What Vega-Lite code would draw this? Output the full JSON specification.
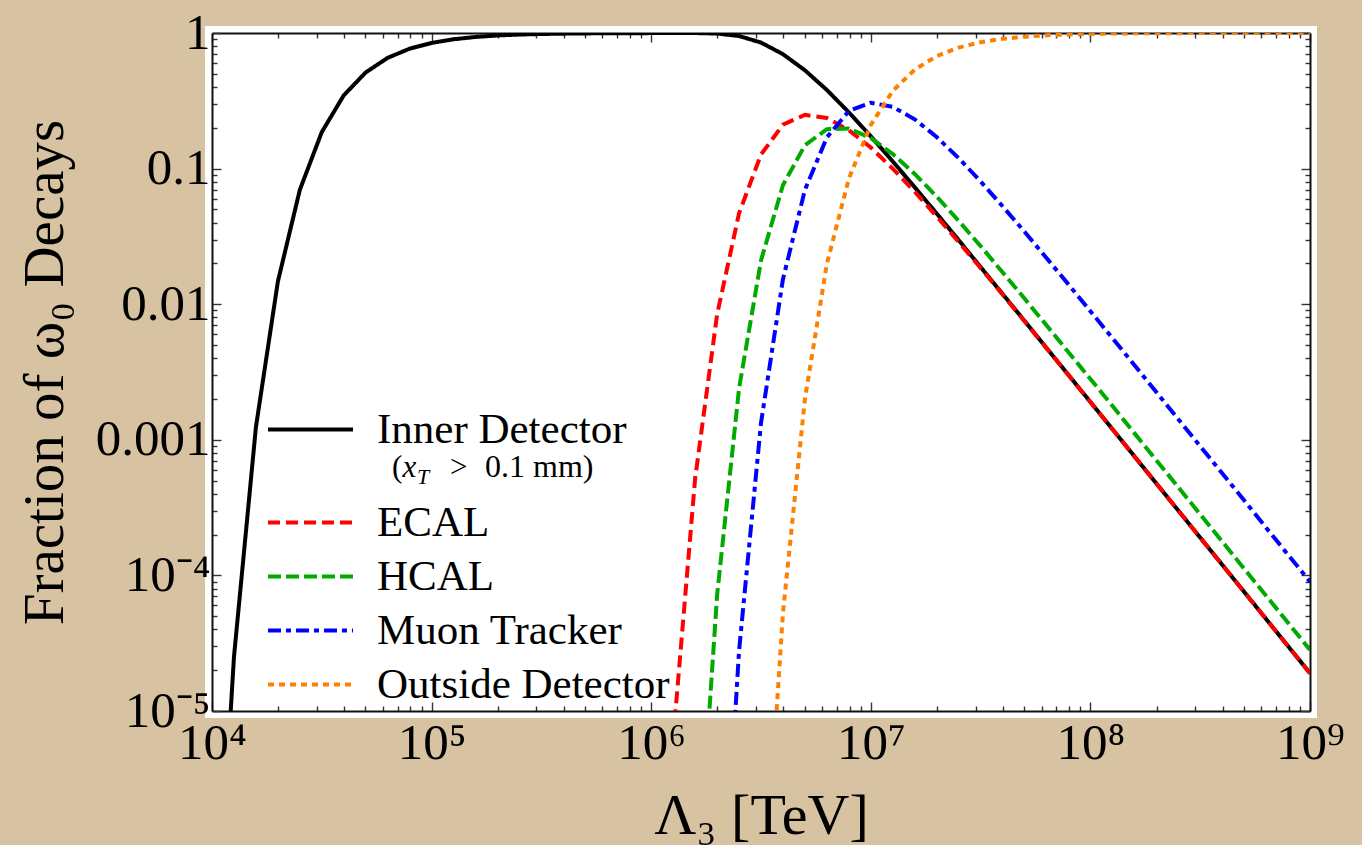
{
  "$schema": "https://vega.github.io/schema/vega-lite/v6.json",
  "width": 1098,
  "height": 678,
  "autosize": {"type": "none"},
  "padding": {"left": 212, "top": 33, "right": 52, "bottom": 134},
  "background": "#d7c3a2",
  "config": {
    "font": "Liberation Serif",
    "view": {"fill": "white", "stroke": "white", "strokeWidth": 14},
    "axis": {
      "grid": false,
      "domainColor": "#111111",
      "domainWidth": 2,
      "tickColor": "#333333",
      "tickWidth": 1.4,
      "labelFont": "Liberation Serif",
      "labelColor": "black",
      "titleFont": "Liberation Serif",
      "titleColor": "black",
      "titleFontWeight": "normal",
      "labelOverlap": false,
      "labelFlush": false,
      "labelBound": false
    },
    "legend": {
      "title": null,
      "orient": "none",
      "padding": 0,
      "symbolType": "M-4,0H4",
      "symbolSize": 452,
      "symbolStrokeWidth": 4,
      "labelFont": "Liberation Serif",
      "labelFontSize": 43,
      "labelColor": "black",
      "labelLimit": 500,
      "labelOffset": 45,
      "rowPadding": 10
    }
  },
  "datasets": {
    "curves": [
      {"s": "Inner Detector", "x": 1e4, "y": 5.1e-8},
      {"s": "Inner Detector", "x": 1.2589e4, "y": 2.5e-5},
      {"s": "Inner Detector", "x": 1.5849e4, "y": 1.24e-3},
      {"s": "Inner Detector", "x": 1.9953e4, "y": 0.0147},
      {"s": "Inner Detector", "x": 2.5119e4, "y": 0.0697},
      {"s": "Inner Detector", "x": 3.1623e4, "y": 0.186},
      {"s": "Inner Detector", "x": 3.9811e4, "y": 0.347},
      {"s": "Inner Detector", "x": 5.0119e4, "y": 0.512},
      {"s": "Inner Detector", "x": 6.3096e4, "y": 0.656},
      {"s": "Inner Detector", "x": 7.9433e4, "y": 0.766},
      {"s": "Inner Detector", "x": 1e5, "y": 0.845},
      {"s": "Inner Detector", "x": 1.2589e5, "y": 0.899},
      {"s": "Inner Detector", "x": 1.5849e5, "y": 0.935},
      {"s": "Inner Detector", "x": 1.9953e5, "y": 0.959},
      {"s": "Inner Detector", "x": 2.5119e5, "y": 0.974},
      {"s": "Inner Detector", "x": 3.1623e5, "y": 0.983},
      {"s": "Inner Detector", "x": 3.9811e5, "y": 0.989},
      {"s": "Inner Detector", "x": 5.0119e5, "y": 0.993},
      {"s": "Inner Detector", "x": 6.3096e5, "y": 0.996},
      {"s": "Inner Detector", "x": 7.9433e5, "y": 0.997},
      {"s": "Inner Detector", "x": 1e6, "y": 0.998},
      {"s": "Inner Detector", "x": 1.2589e6, "y": 0.999},
      {"s": "Inner Detector", "x": 1.5849e6, "y": 0.999},
      {"s": "Inner Detector", "x": 1.9953e6, "y": 0.991},
      {"s": "Inner Detector", "x": 2.5119e6, "y": 0.950},
      {"s": "Inner Detector", "x": 3.1623e6, "y": 0.850},
      {"s": "Inner Detector", "x": 3.9811e6, "y": 0.698},
      {"s": "Inner Detector", "x": 5.0119e6, "y": 0.531},
      {"s": "Inner Detector", "x": 6.3096e6, "y": 0.380},
      {"s": "Inner Detector", "x": 7.9433e6, "y": 0.260},
      {"s": "Inner Detector", "x": 1e7, "y": 0.173},
      {"s": "Inner Detector", "x": 1.2589e7, "y": 0.113},
      {"s": "Inner Detector", "x": 1.5849e7, "y": 0.0729},
      {"s": "Inner Detector", "x": 1.9953e7, "y": 0.0466},
      {"s": "Inner Detector", "x": 2.5119e7, "y": 0.0297},
      {"s": "Inner Detector", "x": 3.1623e7, "y": 0.0188},
      {"s": "Inner Detector", "x": 3.9811e7, "y": 0.0119},
      {"s": "Inner Detector", "x": 5.0119e7, "y": 0.00754},
      {"s": "Inner Detector", "x": 6.3096e7, "y": 0.00476},
      {"s": "Inner Detector", "x": 7.9433e7, "y": 0.00301},
      {"s": "Inner Detector", "x": 1e8, "y": 0.0019},
      {"s": "Inner Detector", "x": 1.2589e8, "y": 0.0012},
      {"s": "Inner Detector", "x": 1.5849e8, "y": 7.57e-4},
      {"s": "Inner Detector", "x": 1.9953e8, "y": 4.77e-4},
      {"s": "Inner Detector", "x": 2.5119e8, "y": 3.01e-4},
      {"s": "Inner Detector", "x": 3.1623e8, "y": 1.9e-4},
      {"s": "Inner Detector", "x": 3.9811e8, "y": 1.2e-4},
      {"s": "Inner Detector", "x": 5.0119e8, "y": 7.57e-5},
      {"s": "Inner Detector", "x": 6.3096e8, "y": 4.77e-5},
      {"s": "Inner Detector", "x": 7.9433e8, "y": 3.01e-5},
      {"s": "Inner Detector", "x": 1e9, "y": 1.9e-5},

      {"s": "ECAL", "x": 1.2589e6, "y": 6.2e-6},
      {"s": "ECAL", "x": 1.5849e6, "y": 5.17e-4},
      {"s": "ECAL", "x": 1.9953e6, "y": 0.00837},
      {"s": "ECAL", "x": 2.5119e6, "y": 0.0468},
      {"s": "ECAL", "x": 3.1623e6, "y": 0.127},
      {"s": "ECAL", "x": 3.9811e6, "y": 0.211},
      {"s": "ECAL", "x": 5.0119e6, "y": 0.249},
      {"s": "ECAL", "x": 6.3096e6, "y": 0.236},
      {"s": "ECAL", "x": 7.9433e6, "y": 0.192},
      {"s": "ECAL", "x": 1e7, "y": 0.143},
      {"s": "ECAL", "x": 1.2589e7, "y": 0.100},
      {"s": "ECAL", "x": 1.5849e7, "y": 0.0676},
      {"s": "ECAL", "x": 1.9953e7, "y": 0.0444},
      {"s": "ECAL", "x": 2.5119e7, "y": 0.0288},
      {"s": "ECAL", "x": 3.1623e7, "y": 0.0185},
      {"s": "ECAL", "x": 3.9811e7, "y": 0.0118},
      {"s": "ECAL", "x": 5.0119e7, "y": 0.00748},
      {"s": "ECAL", "x": 6.3096e7, "y": 0.00474},
      {"s": "ECAL", "x": 7.9433e7, "y": 0.0030},
      {"s": "ECAL", "x": 1e8, "y": 0.0019},
      {"s": "ECAL", "x": 1.2589e8, "y": 0.0012},
      {"s": "ECAL", "x": 1.5849e8, "y": 7.56e-4},
      {"s": "ECAL", "x": 1.9953e8, "y": 4.77e-4},
      {"s": "ECAL", "x": 2.5119e8, "y": 3.01e-4},
      {"s": "ECAL", "x": 3.1623e8, "y": 1.9e-4},
      {"s": "ECAL", "x": 3.9811e8, "y": 1.2e-4},
      {"s": "ECAL", "x": 5.0119e8, "y": 7.57e-5},
      {"s": "ECAL", "x": 6.3096e8, "y": 4.77e-5},
      {"s": "ECAL", "x": 7.9433e8, "y": 3.01e-5},
      {"s": "ECAL", "x": 1e9, "y": 1.9e-5},

      {"s": "HCAL", "x": 1.5849e6, "y": 2.68e-7},
      {"s": "HCAL", "x": 1.9953e6, "y": 7.12e-5},
      {"s": "HCAL", "x": 2.5119e6, "y": 2.39e-3},
      {"s": "HCAL", "x": 3.1623e6, "y": 0.0210},
      {"s": "HCAL", "x": 3.9811e6, "y": 0.0756},
      {"s": "HCAL", "x": 5.0119e6, "y": 0.1485},
      {"s": "HCAL", "x": 6.3096e6, "y": 0.1954},
      {"s": "HCAL", "x": 7.9433e6, "y": 0.1973},
      {"s": "HCAL", "x": 1e7, "y": 0.1681},
      {"s": "HCAL", "x": 1.2589e7, "y": 0.1282},
      {"s": "HCAL", "x": 1.5849e7, "y": 0.0913},
      {"s": "HCAL", "x": 1.9953e7, "y": 0.0622},
      {"s": "HCAL", "x": 2.5119e7, "y": 0.0412},
      {"s": "HCAL", "x": 3.1623e7, "y": 0.0268},
      {"s": "HCAL", "x": 3.9811e7, "y": 0.0172},
      {"s": "HCAL", "x": 5.0119e7, "y": 0.0110},
      {"s": "HCAL", "x": 6.3096e7, "y": 0.00699},
      {"s": "HCAL", "x": 7.9433e7, "y": 0.00443},
      {"s": "HCAL", "x": 1e8, "y": 0.00281},
      {"s": "HCAL", "x": 1.2589e8, "y": 0.00178},
      {"s": "HCAL", "x": 1.5849e8, "y": 0.00112},
      {"s": "HCAL", "x": 1.9953e8, "y": 7.08e-4},
      {"s": "HCAL", "x": 2.5119e8, "y": 4.47e-4},
      {"s": "HCAL", "x": 3.1623e8, "y": 2.82e-4},
      {"s": "HCAL", "x": 3.9811e8, "y": 1.78e-4},
      {"s": "HCAL", "x": 5.0119e8, "y": 1.12e-4},
      {"s": "HCAL", "x": 6.3096e8, "y": 7.08e-5},
      {"s": "HCAL", "x": 7.9433e8, "y": 4.47e-5},
      {"s": "HCAL", "x": 1e9, "y": 2.82e-5},

      {"s": "Muon Tracker", "x": 1.9953e6, "y": 6.0e-8},
      {"s": "Muon Tracker", "x": 2.5119e6, "y": 2.77e-5},
      {"s": "Muon Tracker", "x": 3.1623e6, "y": 1.33e-3},
      {"s": "Muon Tracker", "x": 3.9811e6, "y": 0.0153},
      {"s": "Muon Tracker", "x": 5.0119e6, "y": 0.0697},
      {"s": "Muon Tracker", "x": 6.3096e6, "y": 0.170},
      {"s": "Muon Tracker", "x": 7.9433e6, "y": 0.266},
      {"s": "Muon Tracker", "x": 1e7, "y": 0.306},
      {"s": "Muon Tracker", "x": 1.2589e7, "y": 0.285},
      {"s": "Muon Tracker", "x": 1.5849e7, "y": 0.231},
      {"s": "Muon Tracker", "x": 1.9953e7, "y": 0.171},
      {"s": "Muon Tracker", "x": 2.5119e7, "y": 0.1195},
      {"s": "Muon Tracker", "x": 3.1623e7, "y": 0.0804},
      {"s": "Muon Tracker", "x": 3.9811e7, "y": 0.0528},
      {"s": "Muon Tracker", "x": 5.0119e7, "y": 0.0342},
      {"s": "Muon Tracker", "x": 6.3096e7, "y": 0.0219},
      {"s": "Muon Tracker", "x": 7.9433e7, "y": 0.0140},
      {"s": "Muon Tracker", "x": 1e8, "y": 0.00888},
      {"s": "Muon Tracker", "x": 1.2589e8, "y": 0.00563},
      {"s": "Muon Tracker", "x": 1.5849e8, "y": 0.00356},
      {"s": "Muon Tracker", "x": 1.9953e8, "y": 0.00225},
      {"s": "Muon Tracker", "x": 2.5119e8, "y": 0.00142},
      {"s": "Muon Tracker", "x": 3.1623e8, "y": 8.97e-4},
      {"s": "Muon Tracker", "x": 3.9811e8, "y": 5.67e-4},
      {"s": "Muon Tracker", "x": 5.0119e8, "y": 3.58e-4},
      {"s": "Muon Tracker", "x": 6.3096e8, "y": 2.25e-4},
      {"s": "Muon Tracker", "x": 7.9433e8, "y": 1.42e-4},
      {"s": "Muon Tracker", "x": 1e9, "y": 8.98e-5},

      {"s": "Outside Detector", "x": 3.1623e6, "y": 1.68e-7},
      {"s": "Outside Detector", "x": 3.9811e6, "y": 5.3e-5},
      {"s": "Outside Detector", "x": 5.0119e6, "y": 0.0020},
      {"s": "Outside Detector", "x": 6.3096e6, "y": 0.0199},
      {"s": "Outside Detector", "x": 7.9433e6, "y": 0.0843},
      {"s": "Outside Detector", "x": 1e7, "y": 0.210},
      {"s": "Outside Detector", "x": 1.2589e7, "y": 0.374},
      {"s": "Outside Detector", "x": 1.5849e7, "y": 0.537},
      {"s": "Outside Detector", "x": 1.9953e7, "y": 0.676},
      {"s": "Outside Detector", "x": 2.5119e7, "y": 0.781},
      {"s": "Outside Detector", "x": 3.1623e7, "y": 0.856},
      {"s": "Outside Detector", "x": 3.9811e7, "y": 0.906},
      {"s": "Outside Detector", "x": 5.0119e7, "y": 0.940},
      {"s": "Outside Detector", "x": 6.3096e7, "y": 0.962},
      {"s": "Outside Detector", "x": 7.9433e7, "y": 0.976},
      {"s": "Outside Detector", "x": 1e8, "y": 0.985},
      {"s": "Outside Detector", "x": 1.2589e8, "y": 0.990},
      {"s": "Outside Detector", "x": 1.5849e8, "y": 0.994},
      {"s": "Outside Detector", "x": 1.9953e8, "y": 0.996},
      {"s": "Outside Detector", "x": 2.5119e8, "y": 0.9975},
      {"s": "Outside Detector", "x": 3.1623e8, "y": 0.9984},
      {"s": "Outside Detector", "x": 3.9811e8, "y": 0.999},
      {"s": "Outside Detector", "x": 5.0119e8, "y": 0.9994},
      {"s": "Outside Detector", "x": 6.3096e8, "y": 0.9996},
      {"s": "Outside Detector", "x": 7.9433e8, "y": 0.9997},
      {"s": "Outside Detector", "x": 1e9, "y": 0.9998}
    ]
  },
  "layer": [
    {
      "data": {"name": "curves"},
      "mark": {"type": "line", "clip": true, "strokeWidth": 4},
      "encoding": {
        "x": {
          "field": "x",
          "type": "quantitative",
          "scale": {"type": "log", "domain": [1e4, 1e9], "nice": false},
          "axis": {
            "orient": "bottom",
            "values": [1e4, 2e4, 3e4, 4e4, 5e4, 6e4, 7e4, 8e4, 9e4, 1e5, 2e5, 3e5, 4e5, 5e5, 6e5, 7e5, 8e5, 9e5, 1e6, 2e6, 3e6, 4e6, 5e6, 6e6, 7e6, 8e6, 9e6, 1e7, 2e7, 3e7, 4e7, 5e7, 6e7, 7e7, 8e7, 9e7, 1e8, 2e8, 3e8, 4e8, 5e8, 6e8, 7e8, 8e8, 9e8, 1e9],
            "labelExpr": "datum.value == 1e4 ? '10⁴' : datum.value == 1e5 ? '10⁵' : datum.value == 1e6 ? '10⁶' : datum.value == 1e7 ? '10⁷' : datum.value == 1e8 ? '10⁸' : datum.value == 1e9 ? '10⁹' : ''",
            "tickSize": {"condition": {"test": "indexof([1e4, 1e5, 1e6, 1e7, 1e8, 1e9], datum.value) >= 0", "value": -9}, "value": -5},
            "labelFontSize": 51,
            "labelPadding": 16,
            "title": "Λ₃ [TeV]",
            "titleFontSize": 58,
            "titleBaseline": "alphabetic",
            "titleX": 549,
            "titleY": 122
          }
        },
        "y": {
          "field": "y",
          "type": "quantitative",
          "scale": {"type": "log", "domain": [1e-5, 1], "nice": false},
          "axis": {
            "orient": "left",
            "values": [1e-5, 2e-5, 3e-5, 4e-5, 5e-5, 6e-5, 7e-5, 8e-5, 9e-5, 1e-4, 2e-4, 3e-4, 4e-4, 5e-4, 6e-4, 7e-4, 8e-4, 9e-4, 0.001, 0.002, 0.003, 0.004, 0.005, 0.006, 0.007, 0.008, 0.009, 0.01, 0.02, 0.03, 0.04, 0.05, 0.06, 0.07, 0.08, 0.09, 0.1, 0.2, 0.3, 0.4, 0.5, 0.6, 0.7, 0.8, 0.9, 1],
            "labelExpr": "datum.value == 1 ? '1' : datum.value == 0.1 ? '0.1' : datum.value == 0.01 ? '0.01' : datum.value == 0.001 ? '0.001' : datum.value == 1e-4 ? '10⁻⁴' : datum.value == 1e-5 ? '10⁻⁵' : ''",
            "tickSize": {"condition": {"test": "indexof([1e-5, 1e-4, 0.001, 0.01, 0.1, 1], datum.value) >= 0", "value": -9}, "value": -5},
            "labelFontSize": 51,
            "labelPadding": 11,
            "labelBaseline": "middle",
            "title": "Fraction of ω₀ Decays",
            "titleFontSize": 57,
            "titleAngle": -90,
            "titleBaseline": "alphabetic",
            "titleX": -150,
            "titleY": 339
          }
        },
        "color": {
          "field": "s",
          "type": "nominal",
          "scale": {
            "domain": ["Inner Detector", "ECAL", "HCAL", "Muon Tracker", "Outside Detector"],
            "range": ["#000000", "#ff0000", "#00aa00", "#0000ff", "#ff8000"]
          },
          "legend": {
            "values": ["ECAL", "HCAL", "Muon Tracker", "Outside Detector"],
            "legendX": 77,
            "legendY": 468,
            "encode": {"symbols": {"update": {"strokeDash": {"signal": "scale('strokeDash', datum.value)"}}}}
          }
        },
        "strokeDash": {
          "field": "s",
          "type": "nominal",
          "scale": {
            "domain": ["ECAL", "HCAL", "Muon Tracker", "Outside Detector", "Inner Detector"],
            "range": [[12, 6], [13, 5], [13, 5, 5, 5], [6, 5], [1, 0]]
          },
          "legend": {
            "values": ["Inner Detector"],
            "legendX": 77,
            "legendY": 375,
            "symbolStrokeColor": "black",
            "encode": {"symbols": {"update": {"stroke": {"value": "black"}}}}
          }
        }
      }
    },
    {
      "data": {"values": [{}]},
      "mark": {"type": "text", "text": "(", "align": "left", "baseline": "alphabetic", "fontSize": 31, "font": "Liberation Serif", "color": "black"},
      "encoding": {
        "x": {
          "datum": 66020,
          "type": "quantitative",
          "scale": {"type": "log", "domain": [1e4, 1e9], "nice": false},
          "axis": {
            "orient": "top",
            "values": [1e4, 2e4, 3e4, 4e4, 5e4, 6e4, 7e4, 8e4, 9e4, 1e5, 2e5, 3e5, 4e5, 5e5, 6e5, 7e5, 8e5, 9e5, 1e6, 2e6, 3e6, 4e6, 5e6, 6e6, 7e6, 8e6, 9e6, 1e7, 2e7, 3e7, 4e7, 5e7, 6e7, 7e7, 8e7, 9e7, 1e8, 2e8, 3e8, 4e8, 5e8, 6e8, 7e8, 8e8, 9e8, 1e9],
            "labels": false,
            "title": null,
            "tickSize": {"condition": {"test": "indexof([1e4, 1e5, 1e6, 1e7, 1e8, 1e9], datum.value) >= 0", "value": -9}, "value": -5}
          }
        },
        "y": {
          "datum": 0.000532,
          "type": "quantitative",
          "scale": {"type": "log", "domain": [1e-5, 1], "nice": false},
          "axis": {
            "orient": "right",
            "values": [1e-5, 2e-5, 3e-5, 4e-5, 5e-5, 6e-5, 7e-5, 8e-5, 9e-5, 1e-4, 2e-4, 3e-4, 4e-4, 5e-4, 6e-4, 7e-4, 8e-4, 9e-4, 0.001, 0.002, 0.003, 0.004, 0.005, 0.006, 0.007, 0.008, 0.009, 0.01, 0.02, 0.03, 0.04, 0.05, 0.06, 0.07, 0.08, 0.09, 0.1, 0.2, 0.3, 0.4, 0.5, 0.6, 0.7, 0.8, 0.9, 1],
            "labels": false,
            "title": null,
            "tickSize": {"condition": {"test": "indexof([1e-5, 1e-4, 0.001, 0.01, 0.1, 1], datum.value) >= 0", "value": -9}, "value": -5}
          }
        }
      }
    },
    {
      "data": {"values": [{}]},
      "mark": {"type": "text", "text": "x", "align": "left", "baseline": "alphabetic", "fontSize": 31, "fontStyle": "italic", "font": "Liberation Serif", "color": "black", "dx": 10.5},
      "encoding": {
        "x": {"datum": 66020, "type": "quantitative", "scale": {"type": "log", "domain": [1e4, 1e9], "nice": false}, "axis": null},
        "y": {"datum": 0.000532, "type": "quantitative", "scale": {"type": "log", "domain": [1e-5, 1], "nice": false}, "axis": null}
      }
    },
    {
      "data": {"values": [{}]},
      "mark": {"type": "text", "text": "T", "align": "left", "baseline": "alphabetic", "fontSize": 22, "fontStyle": "italic", "font": "Liberation Serif", "color": "black", "dx": 25, "dy": 7},
      "encoding": {
        "x": {"datum": 66020, "type": "quantitative", "scale": {"type": "log", "domain": [1e4, 1e9], "nice": false}, "axis": null},
        "y": {"datum": 0.000532, "type": "quantitative", "scale": {"type": "log", "domain": [1e-5, 1], "nice": false}, "axis": null}
      }
    },
    {
      "data": {"values": [{}]},
      "mark": {"type": "text", "text": ">", "align": "left", "baseline": "alphabetic", "fontSize": 31, "font": "Liberation Serif", "color": "black", "dx": 58},
      "encoding": {
        "x": {"datum": 66020, "type": "quantitative", "scale": {"type": "log", "domain": [1e4, 1e9], "nice": false}, "axis": null},
        "y": {"datum": 0.000532, "type": "quantitative", "scale": {"type": "log", "domain": [1e-5, 1], "nice": false}, "axis": null}
      }
    },
    {
      "data": {"values": [{}]},
      "mark": {"type": "text", "text": "0.1 mm)", "align": "left", "baseline": "alphabetic", "fontSize": 32, "font": "Liberation Serif", "color": "black", "dx": 93},
      "encoding": {
        "x": {"datum": 66020, "type": "quantitative", "scale": {"type": "log", "domain": [1e4, 1e9], "nice": false}, "axis": null},
        "y": {"datum": 0.000532, "type": "quantitative", "scale": {"type": "log", "domain": [1e-5, 1], "nice": false}, "axis": null}
      }
    }
  ],
  "resolve": {"axis": {"x": "independent", "y": "independent"}}
}
